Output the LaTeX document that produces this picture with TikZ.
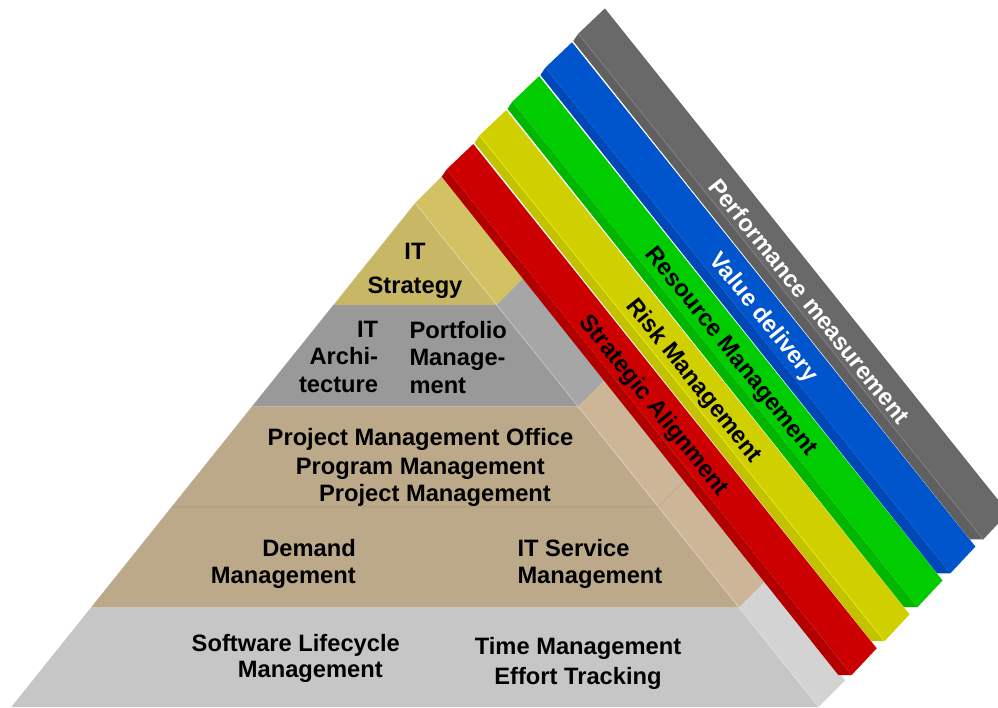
\documentclass[tikz,border=0pt]{standalone}
\usepackage{fontspec}
\setmainfont{Liberation Sans}
\usepackage{xcolor}
\usepackage{tikz}
\usetikzlibrary{calc}

\definecolor{stratfront}{RGB}{200,184,102}
\definecolor{stratside}{RGB}{211,194,100}
\definecolor{archfront}{RGB}{153,153,153}
\definecolor{archside}{RGB}{166,166,166}
\definecolor{pmofront}{RGB}{187,169,138}
\definecolor{pmoside}{RGB}{204,182,151}
\definecolor{basefront}{RGB}{198,198,198}
\definecolor{baseside}{RGB}{211,211,211}
\definecolor{redmain}{RGB}{204,0,0}
\definecolor{reddark}{RGB}{178,0,0}
\definecolor{yelmain}{RGB}{208,208,0}
\definecolor{yeldark}{RGB}{194,194,0}
\definecolor{yellight}{RGB}{232,232,20}
\definecolor{grnmain}{RGB}{0,204,0}
\definecolor{grndark}{RGB}{0,182,0}
\definecolor{blumain}{RGB}{0,85,204}
\definecolor{bludark}{RGB}{0,72,184}
\definecolor{grymain}{RGB}{105,105,105}
\definecolor{grydark}{RGB}{96,96,96}

\begin{document}
\begin{tikzpicture}[x=1pt,y=1pt,
  lbl/.style={inner sep=0pt,font=\bfseries\fontsize{23.7}{27.5}\selectfont},
  barlbl/.style={lbl,rotate=-51.3}]
\useasboundingbox (0,0) rectangle (998,707);
\clip (0,0) rectangle (998,707);

% corners of the front face
\coordinate (A) at (415,504);
\coordinate (L1) at (333.3,402);  \coordinate (R1) at (496.7,402);
\coordinate (L2) at (251.9,300.4); \coordinate (R2) at (578.1,300.4);
\coordinate (L3) at (171.5,200);  \coordinate (R3) at (658.5,200);
\coordinate (L4) at (91,99.5);    \coordinate (R4) at (739,99.5);
\coordinate (L5) at (11.3,0);     \coordinate (R5) at (818.7,0);

% front face, one layer after the other
\fill[stratfront] (A) -- (L1) -- (R1) -- cycle;
\fill[archfront] (L1) -- (L2) -- (R2) -- (R1) -- cycle;
\fill[pmofront] (L2) -- (L3) -- (R3) -- (R2) -- cycle;
\fill[pmofront] (L3) -- (L4) -- (R4) -- (R3) -- cycle;
\fill[basefront] (L4) -- (L5) -- (R5) -- (R4) -- cycle;

% side face
\fill[stratside] (A) -- (R1) -- ($(R1)+(26.5,26.5)$) -- ($(A)+(26.5,26.5)$) -- cycle;
\fill[archside] (R1) -- (R2) -- ($(R2)+(26.5,26.5)$) -- ($(R1)+(26.5,26.5)$) -- cycle;
\fill[pmoside] (R2) -- (R3) -- ($(R3)+(26.5,26.5)$) -- ($(R2)+(26.5,26.5)$) -- cycle;
\fill[pmoside] (R3) -- (R4) -- ($(R4)+(26.5,26.5)$) -- ($(R3)+(26.5,26.5)$) -- cycle;
\fill[baseside] (R4) -- (R5) -- ($(R5)+(26.5,26.5)$) -- ($(R4)+(26.5,26.5)$) -- cycle;

% soft edges between the layers
\draw[white,opacity=0.25,line width=1pt] (A) -- (R5);
\draw[black,opacity=0.08,line width=1pt] (L3) -- (R3) -- ($(R3)+(26.5,26.5)$);
\draw[white,opacity=0.2,line width=1pt] (L1) -- (A);

% bars leaning on the pyramid
\fill[reddark] (441.7,530.3) -- (446.7,537.7) -- (851.7,32) -- (838.3,32) -- cycle;
\fill[redmain] (446.7,537.7) -- (473.3,563) -- (876.7,58.7) -- (851.7,32) -- cycle;
\begin{scope}[shift={(32.9,33.9)}]
\fill[yeldark] (441.7,530.3) -- (446.7,537.7) -- (851.7,32) -- (838.3,32) -- cycle;
\fill[yelmain] (446.7,537.7) -- (473.3,563) -- (876.7,58.7) -- (851.7,32) -- cycle;
\draw[yellight,line width=0.8pt] (446.7,537.7) -- (851.7,32);
\end{scope}
\begin{scope}[shift={(65.8,67.8)}]
\fill[grndark] (441.7,530.3) -- (446.7,537.7) -- (851.7,32) -- (838.3,32) -- cycle;
\fill[grnmain] (446.7,537.7) -- (473.3,563) -- (876.7,58.7) -- (851.7,32) -- cycle;
\end{scope}
\begin{scope}[shift={(98.7,101.7)}]
\fill[bludark] (441.7,530.3) -- (446.7,537.7) -- (851.7,32) -- (838.3,32) -- cycle;
\fill[blumain] (446.7,537.7) -- (473.3,563) -- (876.7,58.7) -- (851.7,32) -- cycle;
\end{scope}
\begin{scope}[shift={(131.6,135.6)}]
\fill[grydark] (441.7,530.3) -- (446.7,537.7) -- (851.7,32) -- (838.3,32) -- cycle;
\fill[grymain] (446.7,537.7) -- (473.3,563) -- (876.7,58.7) -- (851.7,32) -- cycle;
\draw[grymain!85!white,line width=0.8pt] (446.7,537.7) -- (851.7,32);
\end{scope}

% labels on the bars
\node[barlbl] (align) at (653.5,301) {Strategic Alignment};
\node[barlbl] (risk) at (693.6,325.8) {Risk Management};
\node[barlbl] (resource) at (730.5,354.7) {Resource Management};
\node[barlbl,text=white] (value) at (763,389.1) {Value delivery};
\node[barlbl,text=white] (perf) at (809.5,406) {Performance measurement};

% labels on the layers
\node[lbl,align=center,anchor=north,font=\bfseries\fontsize{23.7}{33.3}\selectfont] (strategy) at (415,463.7) {IT\\Strategy};
\node[lbl,align=right,anchor=north east] (archi) at (378.3,386.3) {IT\\Archi-\\tecture};
\node[lbl,align=left,anchor=north west] (portfolio) at (409.3,386.3) {Portfolio\\Manage-\\ment};
\node[lbl,anchor=north] (pmo) at (420.5,278.7) {Project Management Office};
\node[lbl,anchor=north] (program) at (420.3,248.7) {Program Management};
\node[lbl,anchor=north] (project) at (435,223) {Project Management};
\node[lbl,align=right,anchor=north east,font=\bfseries\fontsize{23.7}{26.7}\selectfont] (demand) at (356,167.7) {Demand\\Management};
\node[lbl,align=left,anchor=north west,font=\bfseries\fontsize{23.7}{26.7}\selectfont] (service) at (517.3,167.7) {IT Service\\Management};
\node[lbl,anchor=north] (lifecycle) at (295.8,72.7) {Software Lifecycle};
\node[lbl,anchor=north] (lifecycle2) at (310.3,46.3) {Management};
\node[lbl,align=center,anchor=north,font=\bfseries\fontsize{23.7}{30}\selectfont] (time) at (578,70.3) {Time Management\\Effort Tracking};
\end{tikzpicture}
\end{document}
